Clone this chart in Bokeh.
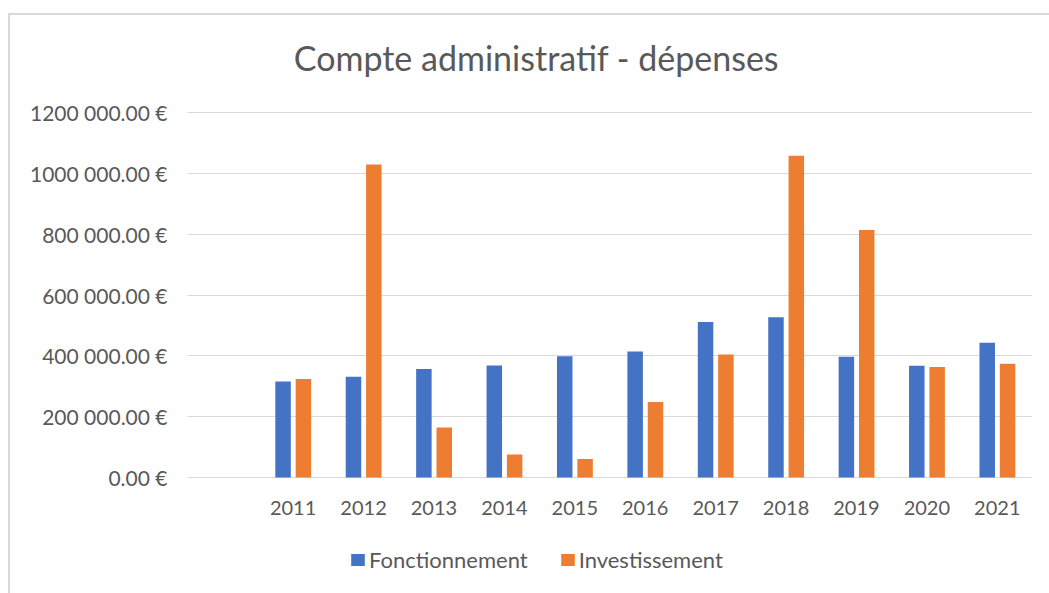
from bokeh.plotting import figure
from bokeh.layouts import column
from bokeh.models import (FactorRange, Range1d, FixedTicker, Legend, LegendItem,
                          Label, ColumnDataSource)
from bokeh.transform import dodge
from bokeh.embed import file_html
from bokeh.resources import INLINE

# ---- data ----
categories = [" ", "2011", "2012", "2013", "2014", "2015", "2016", "2017", "2018", "2019", "2020", "2021"]
years = ["2011", "2012", "2013", "2014", "2015", "2016", "2017", "2018", "2019", "2020", "2021"]
fonctionnement = [316000, 331000, 357000, 368000, 399000, 414000, 511000, 527000, 397000, 367000, 443000]
investissement = [324000, 1029000, 164000, 76000, 61000, 248000, 404000, 1058000, 814000, 363000, 374000]
y_ticks = [0, 200000, 400000, 600000, 800000, 1000000, 1200000]
y_tick_labels = ["0.00 €", "200 000.00 €", "400 000.00 €", "600 000.00 €",
                 "800 000.00 €", "1000 000.00 €", "1200 000.00 €"]
series_names = ["Fonctionnement", "Investissement"]
title_text = "Compte administratif - dépenses"

BLUE = "#4472C4"
ORANGE = "#ED7D31"
TXT = "#595959"
FONT = "Lato"

src = ColumnDataSource(dict(year=years, f=fonctionnement, i=investissement))

p = figure(width=1039, height=518, output_backend="svg", toolbar_location=None,
           x_range=FactorRange(*categories, range_padding=0),
           y_range=Range1d(-9860, 1518900),
           min_border_left=177, min_border_right=17, min_border_top=0, min_border_bottom=53)
p.outline_line_color = None
p.background_fill_color = "white"
p.border_fill_color = "white"

r1 = p.vbar(x=dodge("year", -0.143, range=p.x_range), top="f", width=0.22, source=src,
            fill_color=BLUE, line_color=None)
r2 = p.vbar(x=dodge("year", 0.146, range=p.x_range), top="i", width=0.22, source=src,
            fill_color=ORANGE, line_color=None)

# axes
p.yaxis.ticker = FixedTicker(ticks=y_ticks)
p.yaxis.major_label_overrides = {t: l for t, l in zip(y_ticks, y_tick_labels)}
for ax in (p.xaxis[0], p.yaxis[0]):
    ax.axis_line_color = None
    ax.major_tick_line_color = None
    ax.minor_tick_line_color = None
    ax.major_tick_out = 0
    ax.major_tick_in = 0
    ax.major_label_text_font = FONT
    ax.major_label_text_color = TXT
    ax.major_label_text_font_size = "20px"
p.yaxis.major_label_text_font_size = "21px"
p.yaxis.major_label_standoff = 20
p.xaxis.major_label_standoff = 14
p.xgrid.grid_line_color = None
p.ygrid.grid_line_color = "#d9d9d9"
p.ygrid.grid_line_width = 1

# title
p.add_layout(Label(x=349, y=423, x_units="screen", y_units="screen", text=title_text,
                   text_font=FONT, text_font_size="34px", text_color=TXT,
                   text_align="center", text_baseline="middle"))

# legend strip (separate figure below the chart)
pl = figure(width=1039, height=60, output_backend="svg", toolbar_location=None,
            x_axis_type=None, y_axis_type=None,
            min_border_left=0, min_border_right=0, min_border_top=0, min_border_bottom=0)
pl.outline_line_color = None
pl.grid.grid_line_color = None
pl.background_fill_color = "white"
pl.border_fill_color = "white"
lr1 = pl.quad(left=[0], right=[0], top=[0], bottom=[0], fill_color=BLUE, line_color=None)
lr2 = pl.quad(left=[0], right=[0], top=[0], bottom=[0], fill_color=ORANGE, line_color=None)
legend = Legend(items=[LegendItem(label=series_names[0], renderers=[lr1]),
                       LegendItem(label=series_names[1], renderers=[lr2])],
                orientation="horizontal", location=(162, 20),
                border_line_color=None, background_fill_alpha=0,
                padding=0, margin=0, spacing=31, label_standoff=3,
                glyph_width=17, glyph_height=15,
                label_text_font=FONT, label_text_font_size="22px", label_text_color=TXT)
pl.add_layout(legend, "center")

layout = column(p, pl, spacing=0)
layout.margin = (13, 0, 0, 8)
layout.styles = {"border-left": "2px solid #d9d9d9", "border-top": "2px solid #d9d9d9"}

open("out.html", "w").write(file_html(layout, INLINE))
